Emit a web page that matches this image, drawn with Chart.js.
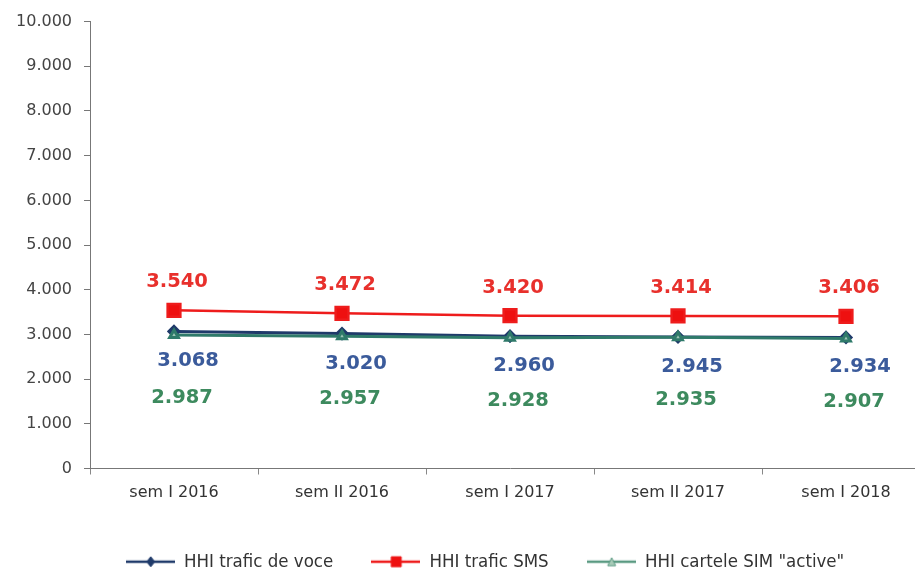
<!DOCTYPE html>
<html>
<head>
<meta charset="utf-8">
<script src="https://cdn.jsdelivr.net/npm/chart.js@4"></script>
<style>
html,body{margin:0;padding:0;background:#fff;overflow:hidden;}
#wrap{width:975px;height:570px;}
</style>
</head>
<body>
<div id="wrap"><canvas id="c" width="975" height="570"></canvas></div>
<script>
const categories = ['sem I 2016','sem II 2016','sem I 2017','sem II 2017','sem I 2018'];
const voce = [3068, 3020, 2960, 2945, 2934];
const sms = [3540, 3472, 3420, 3414, 3406];
const sim = [2987, 2957, 2928, 2935, 2907];
const seriesNames = ['HHI trafic de voce','HHI trafic SMS','HHI cartele SIM "active"'];
const yTicks = [0,1000,2000,3000,4000,5000,6000,7000,8000,9000,10000];

function fmt(v){
  const s = String(Math.round(v));
  return s.replace(/\B(?=(\d{3})+(?!\d))/g,'.');
}

function legendIcon(color, style, fill){
  const cv = document.createElement('canvas');
  cv.width = 49; cv.height = 14;
  const g = cv.getContext('2d');
  g.strokeStyle = color; g.lineWidth = 2.5;
  g.beginPath(); g.moveTo(0,7); g.lineTo(49,7); g.stroke();
  g.fillStyle = fill; g.strokeStyle = color; g.lineWidth = 1;
  g.beginPath();
  if(style==='rect'){ g.rect(20,2,10,10); }
  else if(style==='diamond'){ g.moveTo(25,2); g.lineTo(29,7); g.lineTo(25,12); g.lineTo(21,7); g.closePath(); }
  else { g.moveTo(25,3); g.lineTo(29,11); g.lineTo(21,11); g.closePath(); }
  g.fill(); g.stroke();
  return cv;
}

const labelColors = ['#3b5b9b','#e8302c','#3d8a5e'];
const labelOffsets = [[14,30],[3,-28],[8,63]];

const labelPlugin = {
  id:'dlabels',
  afterDatasetsDraw(chart){
    const ctx = chart.ctx;
    ctx.save();
    ctx.font = 'bold 19.5px "DejaVu Sans", sans-serif';
    ctx.textAlign = 'center';
    ctx.textBaseline = 'middle';
    chart.data.datasets.forEach((ds,i)=>{
      const meta = chart.getDatasetMeta(i);
      ctx.fillStyle = labelColors[i];
      meta.data.forEach((pt,j)=>{
        ctx.fillText(fmt(ds.data[j]), pt.x + labelOffsets[i][0], pt.y + labelOffsets[i][1]);
      });
    });
    ctx.restore();
  }
};

const legendShift = {
  id:'legendShift',
  afterLayout(chart){
    if(chart.legend){ chart.legend.left += 20; chart.legend.right += 20; }
  }
};

const dsVoce = {label:seriesNames[0], data:voce, borderColor:'#1f3a6a', backgroundColor:'#1f3a6a', pointStyle:'rectRot', pointRadius:5, borderWidth:3, order:2};
const dsSms = {label:seriesNames[1], data:sms, borderColor:'#ee1c1c', backgroundColor:'#ee1010', pointStyle:'rect', pointRadius:9, borderWidth:2.5, order:1};
const dsSim = {label:seriesNames[2], data:sim, borderColor:'#2f7a6a', backgroundColor:'#9cc4b4', pointStyle:'triangle', pointRadius:5, borderWidth:3, order:0};

const icons = [legendIcon('#1f3a6a','diamond','#1f3a6a'), legendIcon('#ee1c1c','rect','#ee1010'), legendIcon('#5a9a82','triangle','#a8cbb8')];

new Chart(document.getElementById('c'), {
  type:'line',
  data:{labels:categories, datasets:[dsVoce, dsSms, dsSim]},
  options:{
    responsive:false,
    animation:false,
    layout:{padding:{left:0,right:45,top:21,bottom:-11}},
    plugins:{
      tooltip:{enabled:false},
      legend:{
        position:'bottom',
        labels:{
          usePointStyle:true,
          pointStyleWidth:49,
          boxHeight:14,
          padding:38,
          color:'#333',
          font:{family:'"DejaVu Sans Condensed","DejaVu Sans", sans-serif', size:18.5},
          generateLabels(chart){
            return chart.data.datasets.map((ds,i)=>({text:ds.label, pointStyle:icons[i], datasetIndex:i, fontColor:'#333', lineWidth:0, strokeStyle:'transparent', fillStyle:'transparent'}));
          }
        }
      }
    },
    scales:{
      x:{
        offset:true,
        grid:{display:true, drawOnChartArea:false, drawTicks:true, tickLength:6, color:'#888', offset:true},
        border:{color:'#777', width:1},
        ticks:{color:'#333', padding:9, font:{family:'"DejaVu Sans", sans-serif', size:16}},
        afterFit(s){ s.height = 46; }
      },
      y:{
        min:0, max:10000,
        afterBuildTicks(s){ s.ticks = yTicks.map(v=>({value:v})); },
        grid:{display:true, drawOnChartArea:false, drawTicks:true, tickLength:6, color:'#777'},
        border:{color:'#777', width:1},
        ticks:{color:'#444', padding:12, font:{family:'"DejaVu Sans", sans-serif', size:16}, callback:v=>fmt(v)},
        afterFit(s){ s.width = 90; }
      }
    }
  },
  plugins:[labelPlugin, legendShift]
});
</script>
</body>
</html>
